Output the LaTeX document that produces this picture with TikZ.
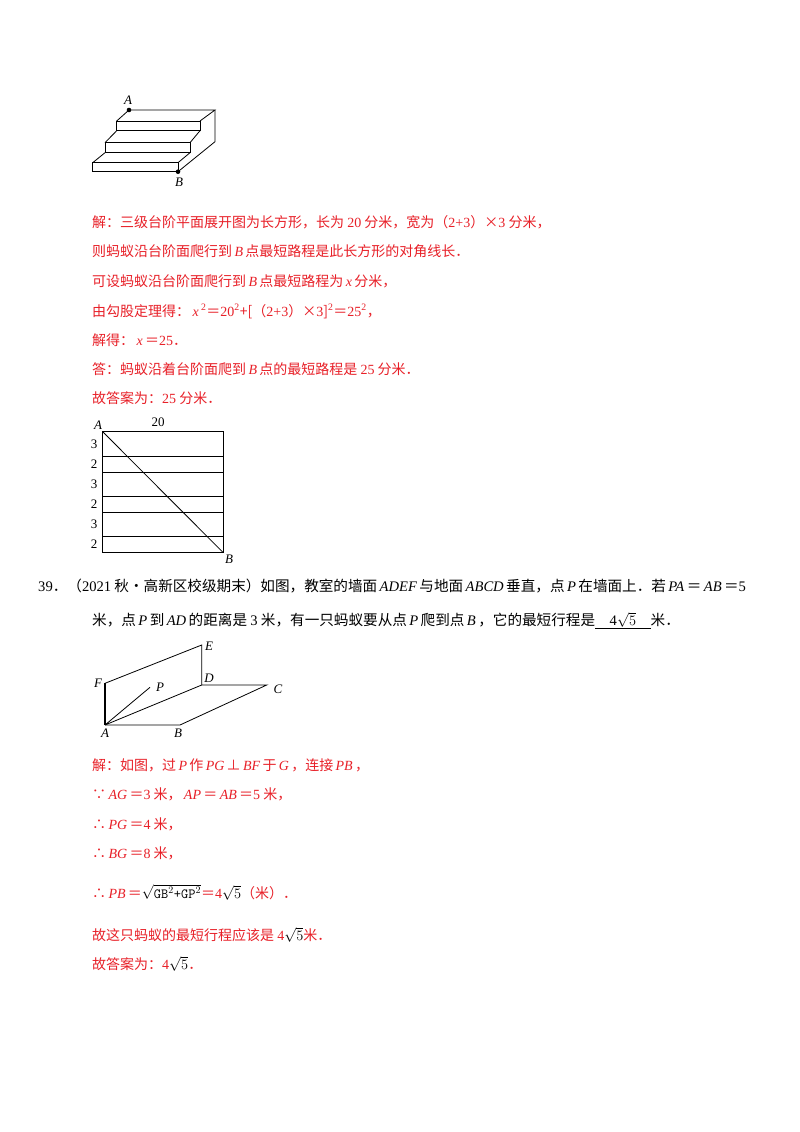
\documentclass[tikz,border=0pt]{standalone}
\usepackage{fontspec}
\setmainfont{Noto Sans CJK SC}
\newfontfamily\lat{Liberation Serif}
\newcommand{\I}[1]{{\lat\itshape\,#1\,}}
\newcommand{\N}[1]{{\lat #1}}
\definecolor{ansred}{RGB}{232,32,40}
\begin{document}
\begin{tikzpicture}[x=1pt,y=-1pt,
  txt/.style={anchor=base west,inner sep=0pt,font=\fontsize{14}{16}\selectfont},
  ans/.style={txt,text=ansred},
  lbl/.style={inner sep=0pt,font=\lat\itshape\fontsize{13}{14}\selectfont},
  num/.style={inner sep=0pt,font=\lat\fontsize{13}{14}\selectfont},
  ln/.style={line width=0.8pt}]
\useasboundingbox (0,0) rectangle (800,1132);
\fill[white] (0,0) rectangle (800,1132);
% stairs
\coordinate (A1) at (129,110);
\coordinate (Bs) at (178,171.7);
\draw[ln] (116.7,121) rectangle (200,130.7);
\draw[ln] (105,142.7) rectangle (190,152.7);
\draw[ln] (92.7,162.7) rectangle (178,171.7);
\draw[ln] (116.7,121) -- (A1) -- (215,110) -- (200,121);
\draw[ln] (116.7,130.7) -- (105,142.7) (200,130.7) -- (190,142.7);
\draw[ln] (105,152.7) -- (92.7,162.7) (190,152.7) -- (178,162.7);
\draw[ln] (215,110) -- (215,141.7) -- (Bs);
\fill (A1) circle (2.3);
\fill (Bs) circle (2.3);
\node[lbl] at (128,100) {A};
\node[lbl] at (179,182) {B};
% text block 1
\node[ans] (t1) at (92,227) {解：三级台阶平面展开图为长方形，长为 \N{20} 分米，宽为（\N{2+3}）×\N{3} 分米，};
\node[ans] (t2) at (92,256) {则蚂蚁沿台阶面爬行到\I{B}点最短路程是此长方形的对角线长．};
\node[ans] (t3) at (92,286) {可设蚂蚁沿台阶面爬行到\I{B}点最短路程为\I{x}分米，};
\node[ans] (t4) at (92,316) {由勾股定理得：\I{x}\textsuperscript{\N{2}}＝\N{20}\textsuperscript{\N{2}}+[（\N{2+3}）×\N{3}]\textsuperscript{\N{2}}＝\N{25}\textsuperscript{\N{2}}，};
\node[ans] (t5) at (92,345) {解得：\I{x}＝\N{25}．};
\node[ans] (t6) at (92,374) {答：蚂蚁沿着台阶面爬到\I{B}点的最短路程是 \N{25} 分米．};
\node[ans] (t7) at (92,403) {故答案为：\N{25} 分米．};
% rectangle
\coordinate (RA) at (102.7,431.7);
\coordinate (RB) at (223.3,552.7);
\draw[ln] (RA) rectangle (RB);
\foreach \y in {455.9,472,496.2,512.3,536.5} \draw[ln] (102.7,\y) -- (223.3,\y);
\draw[ln] (RA) -- (RB);
\node[lbl] at (98,425) {A};
\node[lbl] at (229,559) {B};
\node[num] at (158,422) {20};
\foreach \y/\t in {443.8/3,464/2,484.1/3,504.3/2,524.4/3,544.6/2} \node[num] at (94,\y) {\t};
% problem 39
\node[txt,font=\fontsize{14.6}{16}\selectfont] (p1) at (38,591) {\N{39}．（\N{2021} 秋•高新区校级期末）如图，教室的墙面\I{ADEF}与地面\I{ABCD}垂直，点\I{P}在墙面上．若\I{PA}＝\I{AB}＝\N{5}};
\node[txt,font=\fontsize{14.6}{16}\selectfont] (p2) at (92,625) {米，点\I{P}到\I{AD}的距离是 \N{3} 米，有一只蚂蚁要从点\I{P}爬到点\I{B}，它的最短行程是\underline{\quad\N{4}$\sqrt{5}$\quad}米．};
% wall figure
\coordinate (WA) at (105,725);
\coordinate (WB) at (180,725);
\coordinate (WC) at (266.7,685);
\coordinate (WD) at (201.7,685);
\coordinate (WE) at (201.7,645);
\coordinate (WF) at (105,683.3);
\coordinate (WP) at (150,687.3);
\draw[ln] (WF) -- (WE) -- (WD) -- (WC) -- (WB) -- (WA);
\draw[line width=1.4pt] (WA) -- (WF);
\draw[ln] (WA) -- (WD) (WA) -- (WP);
\node[lbl] at (98,683) {F};
\node[lbl] at (160,687) {P};
\node[lbl] at (209,646) {E};
\node[lbl] at (209,678) {D};
\node[lbl] at (278,689) {C};
\node[lbl] at (105,733) {A};
\node[lbl] at (178,733) {B};
% text block 2
\node[ans] (s1) at (92,770) {解：如图，过\I{P}作\I{PG}⊥\I{BF}于\I{G}，连接\I{PB}，};
\node[ans] (s2) at (92,799) {∵\I{AG}＝\N{3} 米，\I{AP}＝\I{AB}＝\N{5} 米，};
\node[ans] (s3) at (92,829) {∴\I{PG}＝\N{4} 米，};
\node[ans] (s4) at (92,858) {∴\I{BG}＝\N{8} 米，};
\node[ans] (s5) at (92,898) {∴\I{PB}＝{\color{black}$\sqrt{\texttt{GB}^2\texttt{+}\texttt{GP}^2}$}＝\N{4}{\color{black}$\sqrt{5}$}（米）．};
\node[ans] (s6) at (92,940) {故这只蚂蚁的最短行程应该是 \N{4}{\color{black}$\sqrt{5}$}米．};
\node[ans] (s7) at (92,969) {故答案为：\N{4}{\color{black}$\sqrt{5}$}．};
\end{tikzpicture}
\end{document}
